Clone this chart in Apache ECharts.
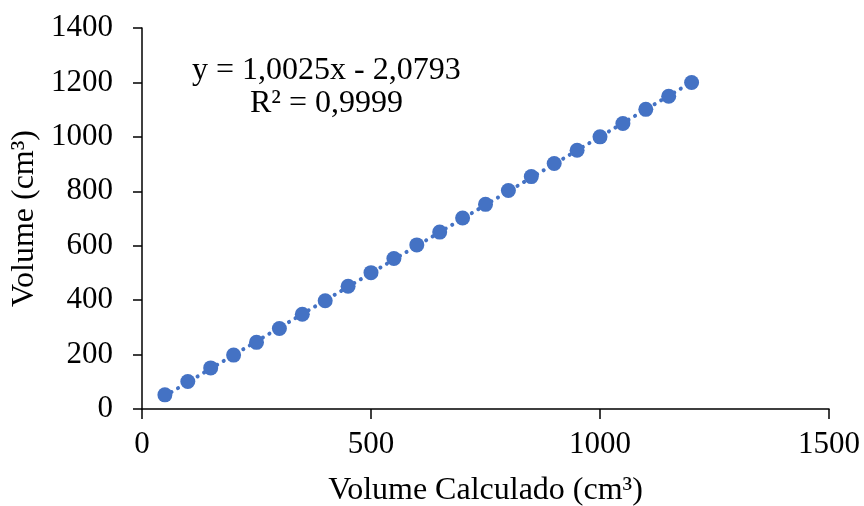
<!DOCTYPE html>
<html>
<head>
<meta charset="utf-8">
<script src="https://cdn.jsdelivr.net/npm/echarts@6/dist/echarts.min.js"></script>
<style>
  html, body { margin: 0; padding: 0; background: #ffffff; }
  #chart { width: 864px; height: 506px; }
</style>
</head>
<body>
<div id="chart"></div>
<script>
(function () {
    'use strict';

    var volumeCalculado = [50, 100, 150, 200, 250, 300, 350, 400, 450, 500, 550, 600,
        650, 700, 750, 800, 850, 900, 950, 1000, 1050, 1100, 1150, 1200];
    var volumeMedido = [52, 101, 151, 198, 245, 296, 348, 398, 451, 501, 553, 603,
        650, 702, 752, 803, 854, 902, 951, 1000, 1049, 1101, 1149, 1200];
    // trendline ends, y = 1,0025x - 2,0793
    var trendX = [50, 1200];
    var trendY = [48.05, 1200.92];
    var equationText = 'y = 1,0025x - 2,0793';
    var r2Text = 'R² = 0,9999';

    var blue = '#4472C4';
    var font = '"Liberation Serif", "Times New Roman", serif';

    function plain(v) {
        return String(v);
    }

    var chart = echarts.init(document.getElementById('chart'), null, { renderer: 'canvas' });

    chart.setOption({
        animation: false,
        backgroundColor: '#ffffff',
        grid: {
            left: 142,
            right: 35,
            top: 28,
            bottom: 97,
            containLabel: false,
            outerBoundsMode: 'none'
        },
        xAxis: {
            type: 'value',
            min: 0,
            max: 1500,
            interval: 500,
            name: 'Volume Calculado (cm³)',
            nameLocation: 'middle',
            nameGap: 66,
            nameTextStyle: { fontFamily: font, fontSize: 32, color: '#000000' },
            axisLine: { onZero: false, lineStyle: { color: '#000000', width: 1.5 } },
            axisTick: { show: true, length: 10, lineStyle: { color: '#000000', width: 1.5 } },
            axisLabel: { fontFamily: font, fontSize: 31, color: '#000000', margin: 20, formatter: plain },
            splitLine: { show: false }
        },
        yAxis: {
            type: 'value',
            min: 0,
            max: 1400,
            interval: 200,
            name: 'Volume (cm³)',
            nameLocation: 'middle',
            nameGap: 98,
            nameRotate: 90,
            nameTextStyle: { fontFamily: font, fontSize: 32, color: '#000000' },
            axisLine: { show: true, onZero: false, lineStyle: { color: '#000000', width: 1.5 } },
            axisTick: { show: true, length: 9, lineStyle: { color: '#000000', width: 1.5 } },
            axisLabel: { fontFamily: font, fontSize: 31, color: '#000000', margin: 29, formatter: plain },
            splitLine: { show: false }
        },
        graphic: [
            {
                type: 'text',
                left: 192,
                top: 55,
                style: { text: equationText, font: '32px ' + font, fill: '#000000' }
            },
            {
                type: 'text',
                left: 250,
                top: 88,
                style: { text: r2Text, font: '32px ' + font, fill: '#000000' }
            }
        ],
        series: [
            {
                type: 'line',
                name: 'Linear',
                data: trendX.map(function (x, i) { return [x, trendY[i]]; }),
                showSymbol: false,
                symbol: 'none',
                z: 1,
                lineStyle: { color: blue, width: 4, type: [0.1, 7.5], cap: 'round' }
            },
            {
                type: 'scatter',
                name: 'Volume',
                data: volumeCalculado.map(function (x, i) { return [x, volumeMedido[i]]; }),
                symbol: 'circle',
                symbolSize: 15,
                z: 2,
                itemStyle: { color: blue, opacity: 1 }
            }
        ]
    });
})();
</script>
</body>
</html>
